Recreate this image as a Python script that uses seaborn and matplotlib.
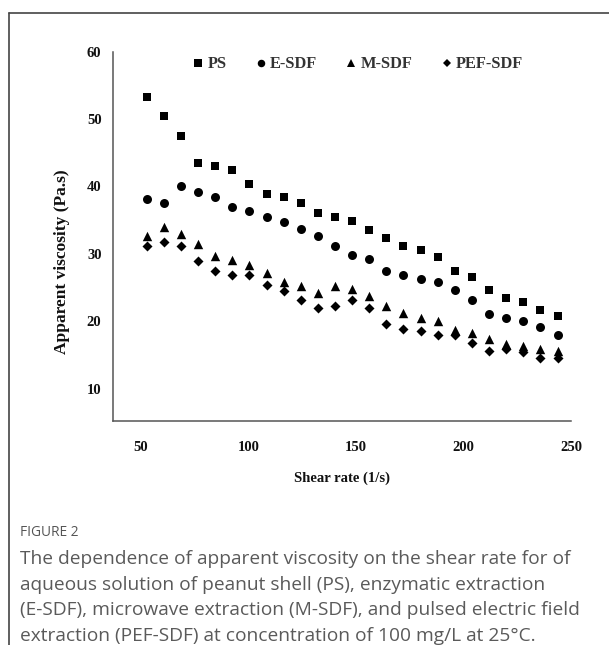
import matplotlib
matplotlib.use('Agg')
import matplotlib.pyplot as plt
import seaborn as sns
import pandas as pd
from matplotlib.lines import Line2D
from matplotlib.ticker import MultipleLocator

# ---- data ----
shear_rate = [52.8, 60.8, 68.7, 76.6, 84.6, 92.5, 100.5, 108.5, 116.4, 124.4,
              132.3, 140.3, 148.2, 156.2, 164.2, 172.1, 180.1, 188.0, 196.0,
              203.9, 211.9, 219.9, 227.8, 235.8, 243.8]
ps = [53.3, 50.5, 47.5, 43.5, 43.0, 42.5, 40.4, 38.9, 38.4, 37.5, 36.1, 35.5,
      34.9, 33.5, 32.3, 31.2, 30.6, 29.5, 27.5, 26.6, 24.6, 23.5, 22.9, 21.7, 20.8]
e_sdf = [38.1, 37.5, 40.1, 39.2, 38.4, 37.0, 36.4, 35.5, 34.7, 33.7, 32.7, 31.2,
         29.8, 29.2, 27.5, 26.9, 26.3, 25.8, 24.6, 23.2, 21.1, 20.5, 20.0, 19.2, 17.9]
m_sdf = [32.6, 34.0, 32.9, 31.4, 29.7, 29.1, 28.4, 27.1, 25.9, 25.3, 24.2, 25.3,
         24.8, 23.7, 22.2, 21.3, 20.5, 20.0, 18.7, 18.2, 17.4, 16.6, 16.4, 15.9, 15.6]
pef_sdf = [31.2, 31.8, 31.2, 28.9, 27.5, 26.9, 26.9, 25.4, 24.5, 23.1, 22.0, 22.3,
           23.1, 22.0, 19.6, 18.8, 18.6, 18.0, 18.0, 16.8, 15.6, 15.9, 15.4, 14.5, 14.5]
series_names = ["PS", "E-SDF", "M-SDF", "PEF-SDF"]
x_ticks = [50, 100, 150, 200, 250]
y_ticks = [10, 20, 30, 40, 50, 60]

caption_title = "FIGURE 2"
caption_lines = [
    "The dependence of apparent viscosity on the shear rate for of",
    "aqueous solution of peanut shell (PS), enzymatic extraction",
    "(E-SDF), microwave extraction (M-SDF), and pulsed electric field",
    "extraction (PEF-SDF) at concentration of 100 mg/L at 25\u00b0C.",
]

# ---- style ----
sns.set_style("white")
plt.rcParams['font.family'] = ['Liberation Serif', 'DejaVu Serif']
plt.rcParams['font.weight'] = 'bold'

W, H = 609, 645
fig = plt.figure(figsize=(W / 100, H / 100), dpi=100)
ax_left, ax_right, ax_top, ax_bottom = 113.3, 571.0, 51.7, 420.7
ax = fig.add_axes([ax_left / W, 1 - ax_bottom / H,
                   (ax_right - ax_left) / W, (ax_bottom - ax_top) / H])

series_vals = [ps, e_sdf, m_sdf, pef_sdf]
markers = ['s', 'o', '^', 'D']
sizes = [40, 42, 46, 26]
frames = []
for name, vals in zip(series_names, series_vals):
    frames.append(pd.DataFrame({"shear": shear_rate, "visc": vals, "series": name}))
df = pd.concat(frames, ignore_index=True)

for name, m, s in zip(series_names, markers, sizes):
    sub = df[df["series"] == name]
    sns.scatterplot(data=sub, x="shear", y="visc", marker=m, s=s, color='black',
                    linewidth=0, ax=ax, legend=False)

ax.set_xlim(37.3, 250)
ax.set_ylim(5.25, 60)
ax.set_xticks(x_ticks)
ax.set_yticks(y_ticks)
ax.xaxis.set_minor_locator(MultipleLocator(25))
ax.yaxis.set_minor_locator(MultipleLocator(5))

for side in ['top', 'right']:
    ax.spines[side].set_visible(False)
for side in ['left', 'bottom']:
    ax.spines[side].set_color('#555555')
    ax.spines[side].set_linewidth(1.1)

ax.tick_params(axis='both', which='major', direction='out', length=4.5, width=1,
               color='#555555', labelsize=10.5, labelcolor='#111111')
ax.tick_params(axis='y', which='major', pad=4)
ax.tick_params(axis='x', which='major', pad=10)
ax.tick_params(axis='x', which='minor', direction='out', length=2.5, width=1, color='#555555')
ax.tick_params(axis='y', which='minor', direction='in', length=1.5, width=1, color='#777777')

ax.set_xlabel("Shear rate (1/s)", fontsize=10.5, fontweight='bold', color='#111111')
ax.set_ylabel("Apparent viscosity (Pa.s)", fontsize=12.5, fontweight='bold', color='#111111')
ax.xaxis.set_label_coords(0.5, (ax_bottom - 478) / (ax_bottom - ax_top))
ax.xaxis.label.set_va('center')
ax.yaxis.set_label_coords((61.7 - ax_left) / (ax_right - ax_left),
                          (ax_bottom - 262) / (ax_bottom - ax_top))
ax.yaxis.label.set_va('center')

handles = [Line2D([], [], marker=m, linestyle='none', color='black',
                  markersize=ms, markeredgewidth=0)
           for m, ms in zip(markers, [5.2, 5.4, 5.6, 4.3])]
ax.legend(handles, series_names, ncol=4, loc='center',
          bbox_to_anchor=(358.5 / W, 1 - 64.5 / H), bbox_transform=fig.transFigure,
          frameon=False, handlelength=0.55, handletextpad=0.3, columnspacing=1.8,
          borderpad=0, prop={'family': 'Liberation Serif', 'weight': 'bold', 'size': 11.8},
          labelcolor='#333333')

# ---- caption ----
fig.text(20 / W, 1 - 533 / H, caption_title, family='Open Sans', weight='normal',
         fontsize=9.9, color='#555555', va='center', ha='left')
for i, line in enumerate(caption_lines):
    fig.text(20 / W, 1 - (559 + 25.6 * i) / H, line, family='Open Sans',
             weight='normal', fontsize=13.8, color='#5a5a5a', va='center', ha='left')

# ---- frame lines ----
fig.add_artist(Line2D([9 / W, 9 / W], [0, 1 - 13 / H], transform=fig.transFigure,
                      color='#444444', lw=1.2))
fig.add_artist(Line2D([9 / W, 1], [1 - 13 / H, 1 - 13 / H], transform=fig.transFigure,
                      color='#444444', lw=1.2))

fig.savefig('out.png', dpi=100)
